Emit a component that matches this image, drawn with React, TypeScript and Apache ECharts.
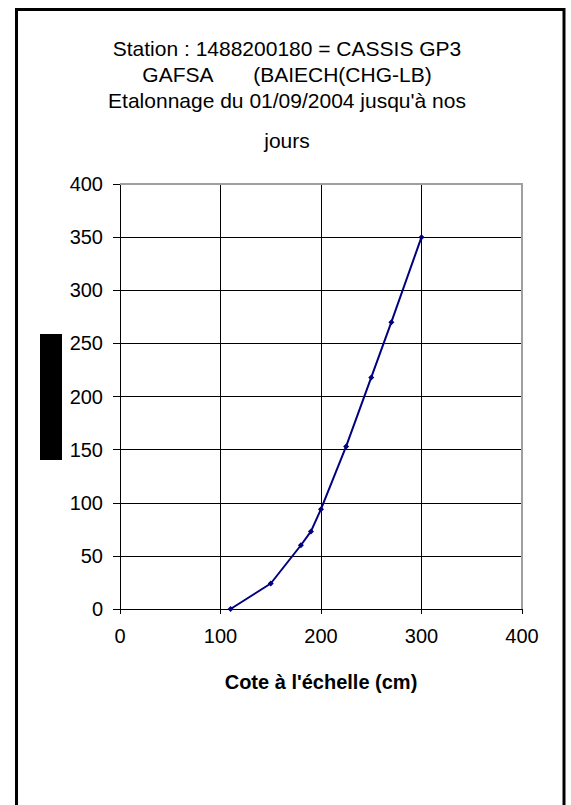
import React, { useEffect, useRef } from "react";
import * as echarts from "echarts";

const titleLines = [
  "Station : 1488200180 = CASSIS GP3",
  "GAFSA       (BAIECH(CHG-LB)",
  "Etalonnage du 01/09/2004 jusqu'à nos",
  "jours",
];
const xAxisName = "Cote à l'échelle (cm)";
const coteValues = [110, 150, 180, 190, 200, 225, 250, 270, 300];
const debitValues = [0, 24, 60, 73, 94, 153, 218, 270, 350];
const axisMin = 0;
const axisMax = 400;
const xInterval = 100;
const yInterval = 50;

const FONT = "'Liberation Sans', Arial, sans-serif";

export default function App() {
  const ref = useRef<HTMLDivElement>(null);
  useEffect(() => {
    document.body.style.margin = "0";
    if (!ref.current) return;
    const chart = echarts.init(ref.current, undefined, { renderer: "svg" });
    const gl = 120, gt = 184, gw = 402, gh = 425;
    const titleY = [48, 74, 100, 140];
    chart.setOption({
      animation: false,
      backgroundColor: "#ffffff",
      textStyle: { fontFamily: FONT },
      grid: { left: gl, top: gt, width: gw, height: gh, containLabel: false },
      xAxis: {
        type: "value",
        min: axisMin,
        max: axisMax,
        interval: xInterval,
        name: xAxisName,
        nameLocation: "middle",
        nameGap: 63,
        nameTextStyle: { fontFamily: FONT, fontSize: 20, fontWeight: "bold", color: "#000" },
        axisLine: { show: true, lineStyle: { color: "#000", width: 1 } },
        axisTick: { show: true, length: 5, lineStyle: { color: "#000" } },
        axisLabel: { fontFamily: FONT, fontSize: 20, color: "#000", margin: 17 },
        splitLine: { show: true, lineStyle: { color: "#000", width: 1 } },
      },
      yAxis: {
        type: "value",
        min: axisMin,
        max: axisMax,
        interval: yInterval,
        axisLine: { show: true, lineStyle: { color: "#000", width: 1 } },
        axisTick: { show: true, length: 7, lineStyle: { color: "#000" } },
        axisLabel: { fontFamily: FONT, fontSize: 20, color: "#000", margin: 17 },
        splitLine: { show: true, lineStyle: { color: "#000", width: 1 } },
      },
      series: [
        {
          type: "line",
          data: coteValues.map((c, i) => [c, debitValues[i]]),
          lineStyle: { color: "#000080", width: 2 },
          itemStyle: { color: "#000080" },
          symbol: "diamond",
          symbolSize: 6,
          showSymbol: true,
          z: 5,
        },
      ],
      graphic: [
        {
          type: "rect",
          shape: { x: 16.5, y: 9.5, width: 547.5, height: 830 },
          style: { fill: "none", stroke: "#000", lineWidth: 3 },
          z: 10,
        },
        {
          type: "polyline",
          shape: { points: [[gl, gt], [gl + gw, gt], [gl + gw, gt + gh]] },
          style: { fill: "none", stroke: "#a0a0a0", lineWidth: 2 },
          z: 10,
        },
        {
          type: "rect",
          shape: { x: 40, y: 334, width: 22, height: 126 },
          style: { fill: "#000" },
          z: 10,
        },
        ...titleLines.map((t, i) => ({
          type: "text",
          x: 287,
          y: titleY[i],
          style: {
            text: t,
            fontFamily: FONT,
            fontSize: 21,
            fill: "#000",
            align: "center",
            verticalAlign: "middle",
          },
          z: 10,
        })),
      ],
    });
    return () => chart.dispose();
  }, []);
  return <div ref={ref} style={{ width: 571, height: 805 }} />;
}
